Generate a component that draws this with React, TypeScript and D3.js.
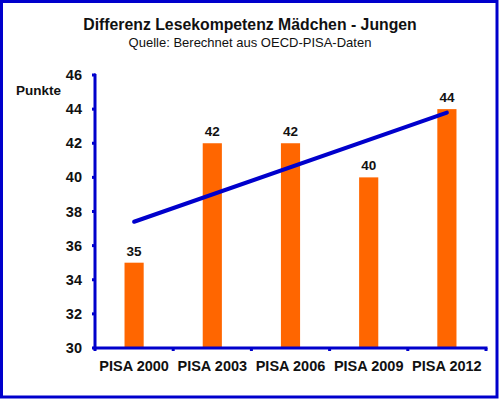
import React from 'react';
import * as d3 from 'd3';

const categories = ['PISA 2000', 'PISA 2003', 'PISA 2006', 'PISA 2009', 'PISA 2012'];
const values = [35, 42, 42, 40, 44];
const yTicks = [30, 32, 34, 36, 38, 40, 42, 44, 46];

const width = 500;
const height = 400;
const margin = { top: 75, right: 14, bottom: 52, left: 95 };
const blue = '#0000cc';
const orange = '#ff6600';
const font = '"Liberation Sans", Arial, sans-serif';

// Excel-style linear trend line from the bar values
const trend = (() => {
  const n = values.length;
  const mx = d3.mean(values.map((_, i) => i)) as number;
  const my = d3.mean(values) as number;
  const sxy = d3.sum(values, (v, i) => (i - mx) * (v - my));
  const sxx = d3.sum(values, (_, i) => (i - mx) ** 2);
  const slope = sxy / sxx;
  return [0, n - 1].map(i => ({ i, v: my + slope * (i - mx) }));
})();

export default function App() {
  const x = d3.scaleBand<string>()
    .domain(categories)
    .range([margin.left, width - margin.right]);
  const y = d3.scaleLinear()
    .domain([30, 46])
    .range([height - margin.bottom, margin.top]);

  const bw = x.bandwidth();
  const barW = bw * 0.245;
  const cx = (c: string) => (x(c) as number) + bw / 2;

  const trendPath = d3.line<{ i: number; v: number }>()
    .x(d => cx(categories[d.i]))
    .y(d => y(d.v))(trend) || '';

  const x0 = margin.left;
  const x1 = width - margin.right;
  const yBase = y(30);

  return (
    <div style={{ position: 'absolute', left: 0, top: 0 }}>
      <svg width={width} height={height} style={{ display: 'block', fontFamily: font }}>
        <rect x={0} y={0} width={width} height={height} fill="#fff" />
        <rect x={1.5} y={1.5} width={width - 4.5} height={height - 4.5} fill="none" stroke={blue} strokeWidth={3} />

        <text x={250} y={30} textAnchor="middle" fontSize={15.8} fontWeight="bold" fill="#111">
          Differenz Lesekompetenz Mädchen - Jungen
        </text>
        <text x={250} y={47} textAnchor="middle" fontSize={13} fill="#111">
          Quelle: Berechnet aus OECD-PISA-Daten
        </text>
        <text x={16} y={95} fontSize={13.5} fontWeight="bold" fill="#111">Punkte</text>

        {/* bars */}
        {categories.map((c, i) => (
          <g key={c}>
            <rect
              x={cx(c) - barW / 2}
              y={y(values[i])}
              width={barW}
              height={yBase - y(values[i])}
              fill={orange}
            />
            <text x={cx(c)} y={y(values[i]) - 7} textAnchor="middle" fontSize={13.5} fontWeight="bold" fill="#111">
              {values[i]}
            </text>
          </g>
        ))}

        {/* y axis */}
        <line x1={x0} y1={y(46) - 1} x2={x0} y2={yBase + 1.5} stroke={blue} strokeWidth={3} />
        {yTicks.map(t => (
          <g key={t}>
            <line x1={x0 - 3} y1={y(t)} x2={x0} y2={y(t)} stroke={blue} strokeWidth={3} />
            <text x={82} y={y(t)} dy="0.35em" textAnchor="end" fontSize={14.5} fontWeight="bold" fill="#111">
              {t}
            </text>
          </g>
        ))}
        <line x1={x0 - 1} y1={y(46)} x2={x0 + 1} y2={y(46)} stroke={blue} strokeWidth={3} />

        {/* x axis */}
        <line x1={x0 - 1.5} y1={yBase} x2={x1 + 1.5} y2={yBase} stroke={blue} strokeWidth={3} />
        {[...categories.map(c => x(c) as number), x1].map((p, i) => (
          <line key={i} x1={p} y1={yBase} x2={p} y2={yBase + 3} stroke={blue} strokeWidth={3} />
        ))}
        {categories.map(c => (
          <text key={c} x={cx(c)} y={371} textAnchor="middle" fontSize={14.5} fontWeight="bold" fill="#111">
            {c}
          </text>
        ))}

        {/* trend line */}
        <path d={trendPath} fill="none" stroke={blue} strokeWidth={4} strokeLinecap="round" />
      </svg>
    </div>
  );
}
